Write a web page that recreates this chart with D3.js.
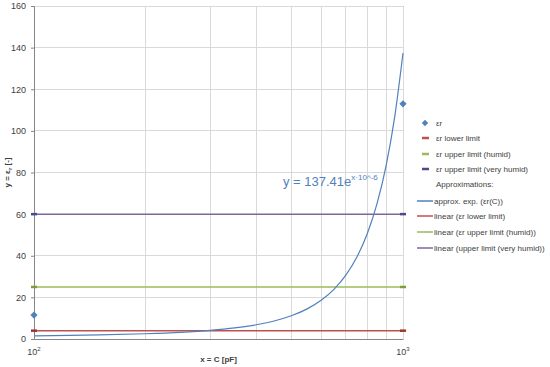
<!DOCTYPE html>
<html><head><meta charset="utf-8">
<script src="https://cdn.jsdelivr.net/npm/d3@7"></script>
<style>body{margin:0;background:#fff}svg{display:block}text{font-family:"Liberation Sans",Arial,sans-serif}</style>
</head><body><svg id="c" width="550" height="367"></svg>
<script>
// data
const erX = [100, 1000];
const erY = [11.5, 113];
const lowerLimit = 4;
const upperHumid = 25;
const upperVeryHumid = 60;
const limitX = [100, 1000];
const fitX = [100,125,150,200,250,300,350,400,450,500,550,600,650,700,750,800,850,900,950,1000];
const fitY = [1.53,1.73,1.96,2.52,3.23,4.15,5.33,6.84,8.78,11.28,14.48,18.60,23.88,30.66,39.37,50.55,64.91,83.34,107.0,137.41];
const yTicks = [0,20,40,60,80,100,120,140,160];
const xGrid = [200,300,400,500,600,700,800,900,1000];
const legendItems = [
  {type:"diamond", color:"#4F81BD", label:"εr"},
  {type:"dash", color:"#C0504D", label:"εr lower limit"},
  {type:"dash", color:"#9BBB59", label:"εr upper limit (humid)"},
  {type:"dash", color:"#4B4B8C", label:"εr upper limit (very humid)"},
  {type:"none", color:"", label:"Approximations:"},
  {type:"line", color:"#4F81BD", label:"approx. exp. (εr(C))"},
  {type:"line", color:"#C0504D", label:"linear (εr lower limit)"},
  {type:"line", color:"#9BBB59", label:"linear (εr upper limit (humid))"},
  {type:"line", color:"#8064A2", label:"linear (upper limit (very humid))"}
];

const svg = d3.select("#c");
const L=34, R=403, T=6, B=339;
const x = d3.scaleLog().domain([100,1000]).range([L,R]);
const y = d3.scaleLinear().domain([0,160]).range([B,T]);

// grid
svg.append("g").selectAll("line").data(yTicks.slice(1)).join("line")
  .attr("x1",L).attr("x2",R).attr("y1",d=>y(d)).attr("y2",d=>y(d))
  .attr("stroke","#D9D9D9").attr("stroke-width",1).attr("shape-rendering","crispEdges");
svg.append("g").selectAll("line").data(xGrid).join("line")
  .attr("x1",d=>x(d)).attr("x2",d=>x(d)).attr("y1",T).attr("y2",B)
  .attr("stroke","#D9D9D9").attr("stroke-width",1).attr("shape-rendering","crispEdges");

// axes
const ya = svg.append("g").attr("transform",`translate(${L},0)`)
  .call(d3.axisLeft(y).tickValues(yTicks).tickSize(3).tickPadding(5));
ya.select(".domain").attr("stroke","#868686");
ya.selectAll(".tick line").attr("stroke","#868686");
ya.selectAll("text").attr("fill","#404040").attr("font-size","9px");
const xa = svg.append("g").attr("transform",`translate(0,${B})`)
  .call(d3.axisBottom(x).tickValues([]).tickSize(0));
xa.select(".domain").attr("stroke","#868686");
[100,1000].forEach((v,i)=>{
  const t = svg.append("text").attr("x",x(v)).attr("y",355).attr("text-anchor","middle")
    .attr("font-size","9px").attr("fill","#404040");
  t.append("tspan").text("10");
  t.append("tspan").attr("dy",-4).attr("font-size","6px").text(i===0?"2":"3");
});

// titles
svg.append("text").attr("x",(L+R)/2).attr("y",362).attr("text-anchor","middle")
  .attr("font-size","8px").attr("font-weight","bold").attr("fill","#404040").text("x = C [pF]");
const yt = svg.append("text").attr("transform",`translate(10,${(T+B)/2}) rotate(-90)`).attr("text-anchor","middle")
  .attr("font-size","8px").attr("font-weight","bold").attr("fill","#404040");
yt.append("tspan").text("y = ε");
yt.append("tspan").attr("dy",2).attr("font-size","6px").text("r");
yt.append("tspan").attr("dy",-2).text(" [-]");

// limit lines
const line = d3.line().x(d=>x(d[0])).y(d=>y(d[1]));
const limits = [[lowerLimit,"#C0504D","#A0322F"],[upperHumid,"#9BBB59","#7E9E3C"],[upperVeryHumid,"#8064A2","#4B4B8C"]];
limits.forEach(([v,c,mc])=>{
  svg.append("path").attr("d",line(limitX.map(xx=>[xx,v]))).attr("fill","none").attr("stroke",c).attr("stroke-width",1.5);
  svg.selectAll(null).data(limitX).join("line")
    .attr("x1",d=>x(d)-3).attr("x2",d=>x(d)+3).attr("y1",y(v)).attr("y2",y(v))
    .attr("stroke",mc).attr("stroke-width",2.5);
});

// exp fit
svg.append("path").attr("d", d3.line().x((d,i)=>x(fitX[i])).y(d=>y(d)).curve(d3.curveMonotoneX)(fitY))
  .attr("fill","none").attr("stroke","#4F81BD").attr("stroke-width",1.2);

// er points
const diamond = d3.symbol(d3.symbolSquare,26);
svg.selectAll(null).data(erX).join("path")
  .attr("d",diamond)
  .attr("transform",(d,i)=>`translate(${x(d)},${y(erY[i])}) rotate(45)`).attr("fill","#4F81BD");

// equation
const eq = svg.append("text").attr("x",283).attr("y",186).attr("font-size","13px").attr("fill","#4F81BD");
eq.append("tspan").text("y = 137.41e");
eq.append("tspan").attr("dy",-6).attr("font-size","8px").text("x·10^-6");

// legend
const ly = [123,138,154,169,184,201,216,232,248];
legendItems.forEach((it,i)=>{
  const g = svg.append("g").attr("transform",`translate(0,${ly[i]})`);
  if(it.type==="diamond") g.append("path").attr("d",d3.symbol(d3.symbolSquare,20)).attr("transform","translate(425,0) rotate(45)").attr("fill",it.color);
  if(it.type==="dash") g.append("line").attr("x1",422).attr("x2",429).attr("stroke",it.color).attr("stroke-width",2.5);
  if(it.type==="line") g.append("line").attr("x1",417).attr("x2",433).attr("stroke",it.color).attr("stroke-width",1.5);
  g.append("text").attr("x",it.type==="line"?434:436).attr("y",3).attr("font-size","8px").attr("fill","#404040").text(it.label);
});
</script></body></html>
